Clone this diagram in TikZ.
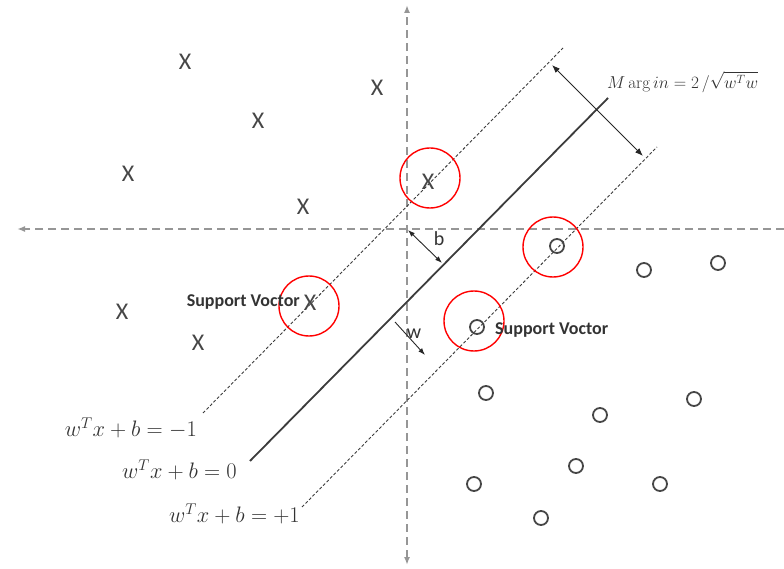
\documentclass[tikz,border=0pt]{standalone}
\usepackage{amsmath,amssymb}
\usepackage{fontspec}
\usetikzlibrary{positioning,calc,arrows.meta}
\newfontfamily\svfont{Carlito}
\definecolor{AxisGray}{RGB}{150,150,150}
\definecolor{MarkGray}{RGB}{70,70,70}
\definecolor{LineGray}{RGB}{60,60,60}

\begin{document}
\begin{tikzpicture}[
    x=1pt, y=-1pt,
    >={Latex[length=8pt,width=6pt]},
    axis/.style={draw=AxisGray, line width=1.8pt, dash pattern=on 8pt off 5pt},
    margin/.style={draw=LineGray, line width=0.9pt, dash pattern=on 3pt off 2pt},
    plane/.style={draw=LineGray, line width=1.8pt},
    dim/.style={draw=black!85, line width=0.9pt},
    xmark/.style={font=\svfont\fontsize{24}{24}\selectfont, text=MarkGray, inner sep=0pt},
    omark/.style={circle, draw=MarkGray, line width=1.8pt, minimum size=14pt, inner sep=0pt},
    sv/.style={circle, draw=red, line width=1.4pt, minimum size=60pt, inner sep=0pt},
    eqlabel/.style={font=\fontsize{20.74}{23}\selectfont, text=black!80, inner sep=0pt, scale=1.08},
    svlabel/.style={font=\svfont\bfseries\fontsize{18}{20}\selectfont, text=black!80, inner sep=0pt},
    letter/.style={font=\svfont\fontsize{20}{22}\selectfont, text=black!80, inner sep=0pt}
]
\useasboundingbox (0,0) rectangle (784,569);

% axes
\coordinate (ytop) at (407,5);
\coordinate (ybot) at (407,565);
\coordinate (xleft) at (17,229);
\coordinate (xright) at (784,229);
\draw[axis,<->] (ybot) -- (ytop);
\draw[axis,->] (xright) -- (xleft);

% hyperplane and margins
\coordinate (neglo) at (203,413);
\coordinate (neghi) at (563,48);
\coordinate (midlo) at (250,461);
\coordinate (midhi) at (608,98);
\coordinate (poslo) at (302,507);
\coordinate (poshi) at (657,147);
\draw[margin] (neglo) -- (neghi);
\draw[plane] (midlo) -- (midhi);
\draw[margin] (poslo) -- (poshi);

% class X
\node[xmark] (x1) at (185,62) {X};
\node[xmark] (x2) at (377,88) {X};
\node[xmark] (x3) at (258,121) {X};
\node[xmark] (x4) at (128,174) {X};
\node[xmark] (x5) at (303,207) {X};
\node[xmark] (x6) at (428,182) {X};
\node[xmark] (x7) at (310,303) {X};
\node[xmark] (x8) at (122,312) {X};
\node[xmark] (x9) at (198,343) {X};

% class O
\node[omark] (o1) at (557,246) {};
\node[omark] (o2) at (644,270) {};
\node[omark] (o3) at (718,263) {};
\node[omark] (o4) at (477,327) {};
\node[omark] (o5) at (486,393) {};
\node[omark] (o6) at (600,415) {};
\node[omark] (o7) at (694,399) {};
\node[omark] (o8) at (576,466) {};
\node[omark] (o9) at (474,484) {};
\node[omark] (o10) at (660,484) {};
\node[omark] (o11) at (541,518) {};

% support vectors
\node[sv] (sv1) at (430,178) {};
\node[sv] (sv2) at (553,247) {};
\node[sv] (sv3) at (309,306) {};
\node[sv] (sv4) at (474,321) {};
\node[svlabel, anchor=east] (svl) at (300,302) {Support Voctor};
\node[svlabel, anchor=west] (svr) at (495,330) {Support Voctor};

% margin width, offset, normal
\coordinate (mtop) at (552,65);
\coordinate (mbot) at (643,156);
\draw[dim,<->] (mtop) -- (mbot);
\node[text=black!80, font=\fontsize{17.28}{19}\selectfont, inner sep=0pt, anchor=west] (mlabel) at (607,82) {$M\arg in=2\,/\sqrt{w^Tw}$};
\coordinate (origin) at (408,230);
\coordinate (bfoot) at (442,263);
\draw[dim,<->,>={Latex[length=7pt,width=5pt]}] (origin) -- (bfoot);
\node[letter] (blabel) at (439,239) {b};
\coordinate (wtail) at (395,322);
\coordinate (whead) at (425,355);
\draw[dim,->,>={Latex[length=7pt,width=5pt]}] (wtail) -- (whead);
\node[letter] (wlabel) at (414,334) {w};

% equations
\node[eqlabel, anchor=east] (eqneg) at (197,428) {$w^Tx+b=-1$};
\node[eqlabel, anchor=east] (eqmid) at (237,470) {$w^Tx+b=0$};
\node[eqlabel, anchor=east] (eqpos) at (300,514) {$w^Tx+b=+1$};
\end{tikzpicture}
\end{document}
